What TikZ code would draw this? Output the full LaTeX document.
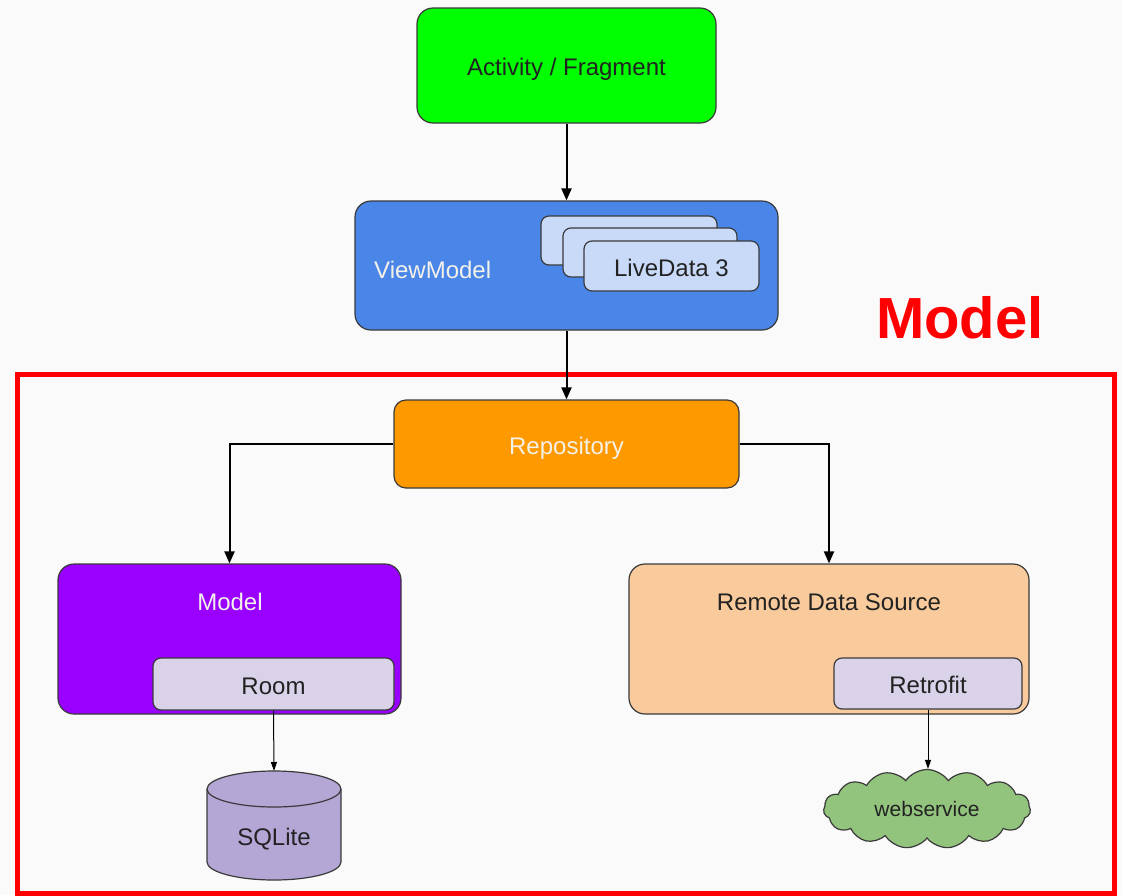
\documentclass[tikz,border=0pt]{standalone}
\usepackage{fontspec}
\setmainfont{Liberation Sans}
\usetikzlibrary{shapes.symbols,arrows.meta}
\definecolor{bg}{HTML}{FAFAFA}
\definecolor{actgreen}{HTML}{00FF00}
\definecolor{vmblue}{HTML}{4A86E8}
\definecolor{ldblue}{HTML}{C9DAF8}
\definecolor{repoorange}{HTML}{FF9900}
\definecolor{modelpurple}{HTML}{9900FF}
\definecolor{lavender}{HTML}{D9D2E9}
\definecolor{peach}{HTML}{F9CB9C}
\definecolor{dbpurple}{HTML}{B4A7D6}
\definecolor{cloudgreen}{HTML}{93C47D}
\definecolor{edge}{HTML}{3A3A3A}
\definecolor{txt}{HTML}{222222}
\definecolor{lighttxt}{HTML}{F4F1E8}
\begin{document}
\begin{tikzpicture}[x=1pt,y=-1pt,
  box/.style={draw=edge,line width=1.2pt,rounded corners=16pt,font=\fontsize{24}{28}\selectfont,text=txt,inner sep=0pt,text height=20pt,text depth=0pt},
  smallbox/.style={draw=edge,line width=1.2pt,rounded corners=8pt,font=\fontsize{24}{28}\selectfont,text=txt,inner sep=0pt,text height=20pt,text depth=0pt},
  lbl/.style={font=\fontsize{24}{28}\selectfont,inner sep=0pt,text height=20pt,text depth=0pt},
  arr/.style={line width=2pt,-{Triangle[length=12pt,width=10pt]}},
  thinarr/.style={line width=1pt,-{Triangle[length=9pt,width=6pt]}}]
\useasboundingbox (0,0) rectangle (1122,895);
\fill[bg] (0,0) rectangle (1122,895);

% Activity / Fragment
\node[box,fill=actgreen,minimum width=299pt,minimum height=115pt] (act) at (566.5,65.5) {Activity / Fragment};

% ViewModel
\node[box,fill=vmblue,minimum width=423pt,minimum height=129pt] (vm) at (566.5,265.5) {};
\node[lbl,text=lighttxt,anchor=west] (vmtext) at (374,268) {ViewModel};
\node[smallbox,fill=ldblue,minimum width=176pt,minimum height=49pt] (ld1) at (629,240.5) {};
\node[smallbox,fill=ldblue,minimum width=174pt,minimum height=49pt] (ld2) at (650,252.5) {};
\node[smallbox,fill=ldblue,minimum width=175pt,minimum height=50pt] (ld3) at (671.5,266) {LiveData 3};

% Red Model frame
\draw[red,line width=5pt] (17,374) rectangle (1114,893);
\node[font=\fontsize{58}{64}\selectfont\bfseries,text=red,inner sep=0pt] (modeltitle) at (960,318) {Model};

% Repository
\node[box,fill=repoorange,text=lighttxt,minimum width=345pt,minimum height=88pt,rounded corners=12pt] (repo) at (566.5,444) {Repository};

% Model box
\node[box,fill=modelpurple,minimum width=343pt,minimum height=150pt] (model) at (229.5,639) {};
\node[lbl,text=lighttxt] (modeltext) at (230,600) {Model};
\node[smallbox,fill=lavender,minimum width=241pt,minimum height=52pt] (room) at (273.5,684) {Room};

% Remote data source
\node[box,fill=peach,minimum width=400pt,minimum height=150pt] (rds) at (829,639) {};
\node[lbl,text=txt] (rdstext) at (829,600) {Remote Data Source};
\node[smallbox,fill=lavender,minimum width=188pt,minimum height=51pt] (retro) at (928,683.5) {Retrofit};

% SQLite cylinder
\filldraw[fill=dbpurple,draw=edge,line width=1.2pt]
  (207,789) -- (207,862) arc(180:0:67 and 18) -- (341,789) arc(0:-180:67 and 18) -- cycle;
\draw[edge,line width=1.2pt] (207,789) arc(180:0:67 and 18);
\node[lbl,text=txt] (sqlite) at (274,835) {SQLite};
\coordinate (sqltop) at (274,771);

% webservice cloud
\node[cloud,cloud puffs=15,cloud puff arc=110,aspect=2.6,draw=edge,line width=1.2pt,fill=cloudgreen,
  minimum width=207pt,minimum height=79pt,inner sep=0pt,font=\fontsize{21}{25}\selectfont,text=txt] (cloud) at (927,809) {webservice};

% connectors
\draw[arr] (act) -- (vm);
\draw[arr] (vm) -- (repo);
\draw[arr] (repo.west) -| (model.north);
\draw[arr] (repo.east) -| (rds.north);
\draw[thinarr] (room.south) -- (sqltop);
\draw[thinarr] (retro.south) -- (retro.south |- cloud.north);
\end{tikzpicture}
\end{document}
